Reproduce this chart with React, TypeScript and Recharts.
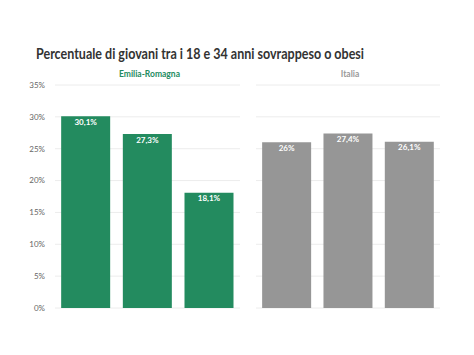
import React from 'react';
import { BarChart, Bar, XAxis, YAxis, CartesianGrid, LabelList } from 'recharts';

const categories = ['a', 'b', 'c'];
const emiliaValues = [30.1, 27.3, 18.1];
const italiaValues = [26, 27.4, 26.1];
const yTicks = [0, 5, 10, 15, 20, 25, 30, 35];

const FONT = 'Lato, "Noto Sans", sans-serif';

function fmt(v: number): string {
  return `${String(v).replace('.', ',')}%`;
}

function Panel({
  values,
  color,
  showAxis,
  width,
}: {
  values: number[];
  color: string;
  showAxis: boolean;
  width: number;
}) {
  const data = categories.map((c, i) => ({ name: c, value: values[i] }));
  return (
    <BarChart
      width={width}
      height={320}
      data={data}
      margin={{ top: 85, right: 5, left: 0, bottom: 12 }}
      barCategoryGap="10%"
    >
      <CartesianGrid vertical={false} stroke="#ececec" />
      <XAxis dataKey="name" hide />
      <YAxis
        domain={[0, 35]}
        ticks={yTicks}
        hide={!showAxis}
        width={55}
        axisLine={false}
        tickLine={false}
        tickFormatter={(v: number) => `${v}%`}
        tick={{ fontSize: 8, fill: '#666', fontFamily: FONT }}
        tickMargin={4}
      />
      <Bar dataKey="value" fill={color} isAnimationActive={false}>
        <LabelList
          dataKey="value"
          position="insideTop"
          offset={3}
          formatter={(v: any) => fmt(Number(v))}
          style={{ fill: '#fff', fontSize: 8, fontWeight: 700, fontFamily: FONT }}
        />
      </Bar>
    </BarChart>
  );
}

export default function App() {
  return (
    <div
      style={{
        position: 'absolute',
        left: 0,
        top: 0,
        width: 474,
        height: 355,
        background: '#fff',
        fontFamily: FONT,
      }}
    >
      <svg width={474} height={80} style={{ position: 'absolute', left: 0, top: 0 }}>
        <text
          x={36}
          y={59}
          fontSize={16}
          fontWeight={700}
          fill="#333"
          fontFamily={FONT}
          textLength={328}
          lengthAdjust="spacingAndGlyphs"
        >
          Percentuale di giovani tra i 18 e 34 anni sovrappeso o obesi
        </text>
      </svg>
      <div
        style={{
          position: 'absolute',
          left: 57,
          width: 185,
          top: 69,
          textAlign: 'center',
          fontSize: 8.5,
          fontWeight: 700,
          color: '#238b5f',
        }}
      >
        Emilia-Romagna
      </div>
      <div
        style={{
          position: 'absolute',
          left: 258,
          width: 184,
          top: 69,
          textAlign: 'center',
          fontSize: 8.5,
          fontWeight: 700,
          color: '#999',
        }}
      >
        Italia
      </div>
      <div style={{ position: 'absolute', left: 0, top: 0 }}>
        <Panel values={emiliaValues} color="#238b5f" showAxis width={245} />
      </div>
      <div style={{ position: 'absolute', left: 256, top: 0 }}>
        <Panel values={italiaValues} color="#969696" showAxis={false} width={189} />
      </div>
    </div>
  );
}
